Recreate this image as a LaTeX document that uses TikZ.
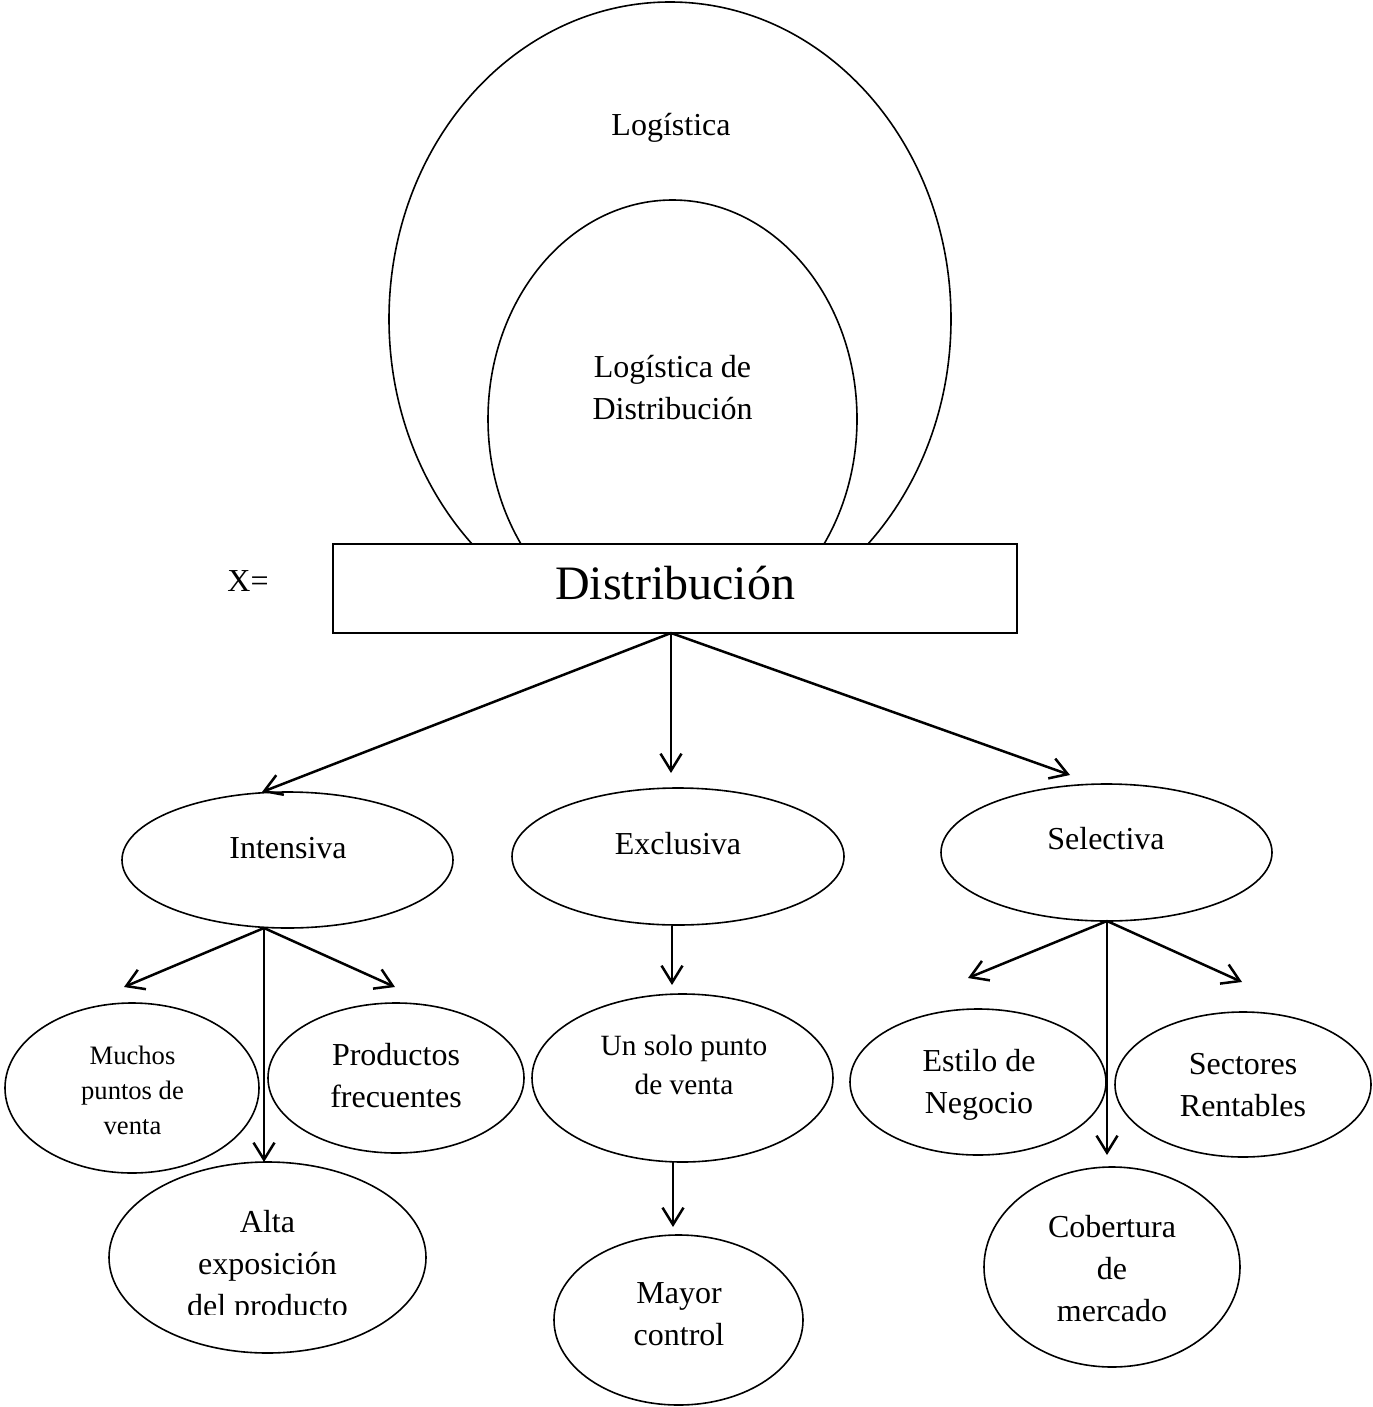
\documentclass[tikz,border=0pt]{standalone}
\usepackage{fontspec}
\setmainfont{Liberation Serif}
\usetikzlibrary{arrows.meta,calc,shapes.geometric}

\tikzset{
  oval/.style={draw, ellipse, line width=0.8pt, inner sep=0pt, outer sep=0pt},
  txt/.style={inner sep=0pt, align=center, anchor=north, yshift=-1.25pt,
              font=\fontsize{16pt}{21pt}\selectfont},
  smalltxt/.style={txt, font=\fontsize{13.3pt}{17.5pt}\selectfont},
  midtxt/.style={txt, font=\fontsize{14.7pt}{19.5pt}\selectfont},
  arr/.style={line width=1.25pt, -{Straight Barb[length=8.5pt,width=10.5pt]}},
}

\begin{document}
\begin{tikzpicture}[x=0.5pt, y=-0.5pt]
  \useasboundingbox (0,0) rectangle (1372,1407);

  % nested logistics ovals, cut off at the top of the box
  \begin{scope}
    \clip (0,0) rectangle (1372,544);
    \node[oval, minimum width=281pt, minimum height=317pt] (logi) at (670,319) {};
    \node[oval, minimum width=184.5pt, minimum height=219pt] (logdist) at (672.5,419) {};
  \end{scope}
  \node[txt] (logi-t) at (671,103.6) {\strut Logística};
  \node[txt] (logdist-t) at (672.5,345.6) {\strut Logística de\\Distribución};

  % central box
  \node[draw, fill=white, line width=0.8pt, inner sep=0pt, outer sep=0pt,
        minimum width=342pt, minimum height=44.5pt] (dist) at (675,588.5) {};
  \node[inner sep=0pt, anchor=base, font=\fontsize{24pt}{28pt}\selectfont]
        (dist-t) at (675,599) {Distribución};
  \node[inner sep=0pt, anchor=base, font=\fontsize{16pt}{21pt}\selectfont]
        (xeq) at (248,591) {X=};

  % second level
  \node[oval, minimum width=165.5pt, minimum height=68pt] (int) at (287.5,860) {};
  \node[oval, minimum width=166pt, minimum height=68.5pt] (exc) at (678,856.5) {};
  \node[oval, minimum width=165.5pt, minimum height=68.5pt] (sel) at (1106.5,852.5) {};
  \node[txt] (int-t) at (288,826.6) {\strut Intensiva};
  \node[txt] (exc-t) at (678,822.6) {\strut Exclusiva};
  \node[txt] (sel-t) at (1106,817.6) {\strut Selectiva};

  % third level: intensive
  \node[oval, minimum width=127pt, minimum height=85pt] (much) at (132,1088) {};
  \node[oval, minimum width=128pt, minimum height=75pt] (prod) at (396,1078) {};
  \node[oval, minimum width=158.5pt, minimum height=95.5pt] (alta) at (267.5,1257.5) {};
  \node[smalltxt] (much-t) at (132.5,1037.5) {\strut Muchos\\puntos de\\venta};
  \node[txt] (prod-t) at (396,1033.6) {\strut Productos\\frecuentes};
  \begin{scope}
    \clip (100,1160) rectangle (440,1314);
    \node[txt] (alta-t) at (267.5,1200.6) {\strut Alta\\exposición\\del producto};
  \end{scope}

  % third level: exclusive
  \node[oval, minimum width=150.5pt, minimum height=84pt] (uno) at (682.5,1078) {};
  \node[oval, minimum width=124.5pt, minimum height=85pt] (mayor) at (678.5,1320) {};
  \node[midtxt] (uno-t) at (684,1025.7) {\strut Un solo punto\\de venta};
  \node[txt] (mayor-t) at (679,1271.6) {\strut Mayor\\control};

  % third level: selective
  \node[oval, minimum width=128pt, minimum height=73pt] (estilo) at (978,1082) {};
  \node[oval, minimum width=128pt, minimum height=72.5pt] (sect) at (1243,1084.5) {};
  \node[oval, minimum width=128pt, minimum height=100pt] (cob) at (1112,1267) {};
  \node[txt] (estilo-t) at (979,1039.6) {\strut Estilo de\\Negocio};
  \node[txt] (sect-t) at (1243,1042.6) {\strut Sectores\\Rentables};
  \node[txt] (cob-t) at (1112,1205.6) {\strut Cobertura\\de\\mercado};

  % connectors
  \draw[arr] ($(dist.south)+(-4,0)$) -- ($(int.north)+(-25.5,0)$);
  \draw[arr] ($(dist.south)+(-4,0)$) -- ($(exc.north)+(-7,-15)$);
  \draw[arr] ($(dist.south)+(-4,0)$) -- ($(sel.north)+(-36.5,-9)$);

  \draw[arr] ($(int.south)+(-23.5,0)$) -- ($(much.north)+(-8,-16)$);
  \draw[arr] ($(int.south)+(-23.5,0)$) -- ($(prod.north)+(-1,-16)$);
  \draw[arr] ($(int.south)+(-23.5,0)$) -- ($(alta.north)+(-3.5,0)$);

  \draw[arr] ($(exc.south)+(-6,1)$) -- ($(uno.north)+(-10.5,-9)$);
  \draw[arr] ($(uno.south)+(-9.5,0)$) -- ($(mayor.north)+(-5.5,-8)$);

  \draw[arr] ($(sel.south)+(0.5,0)$) -- ($(estilo.north)+(-10,-31)$);
  \draw[arr] ($(sel.south)+(0.5,0)$) -- ($(cob.north)+(-5,-12)$);
  \draw[arr] ($(sel.south)+(0.5,0)$) -- ($(sect.north)+(-1,-30)$);
\end{tikzpicture}
\end{document}
